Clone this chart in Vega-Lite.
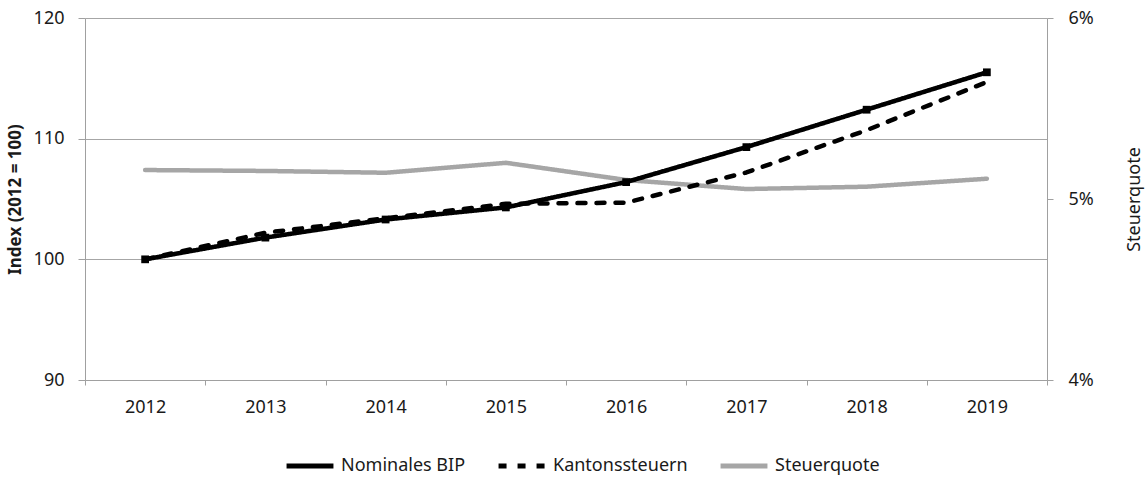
{
  "$schema": "https://vega.github.io/schema/vega-lite/v6.json",
  "width": 962,
  "height": 362,
  "autosize": "none",
  "padding": {"left": 85, "top": 18, "right": 98, "bottom": 100},
  "background": "white",
  "config": {
    "view": {"stroke": null},
    "font": "Noto Sans",
    "axis": {
      "domainColor": "#a0a0a0",
      "tickColor": "#a0a0a0",
      "gridColor": "#a6a6a6",
      "labelColor": "#1a1a1a",
      "titleColor": "#1a1a1a",
      "labelFontSize": 18,
      "labelFont": "Noto Sans"
    }
  },
  "datasets": {
    "index": [
      {"year": "2012", "series": "Nominales BIP", "value": 100},
      {"year": "2013", "series": "Nominales BIP", "value": 101.8},
      {"year": "2014", "series": "Nominales BIP", "value": 103.3},
      {"year": "2015", "series": "Nominales BIP", "value": 104.3},
      {"year": "2016", "series": "Nominales BIP", "value": 106.4},
      {"year": "2017", "series": "Nominales BIP", "value": 109.3},
      {"year": "2018", "series": "Nominales BIP", "value": 112.4},
      {"year": "2019", "series": "Nominales BIP", "value": 115.5},
      {"year": "2012", "series": "Kantonssteuern", "value": 100},
      {"year": "2013", "series": "Kantonssteuern", "value": 102.2},
      {"year": "2014", "series": "Kantonssteuern", "value": 103.4},
      {"year": "2015", "series": "Kantonssteuern", "value": 104.6},
      {"year": "2016", "series": "Kantonssteuern", "value": 104.7},
      {"year": "2017", "series": "Kantonssteuern", "value": 107.2},
      {"year": "2018", "series": "Kantonssteuern", "value": 110.7},
      {"year": "2019", "series": "Kantonssteuern", "value": 114.7}
    ],
    "quote": [
      {"year": "2012", "series": "Steuerquote", "value": 0.0516},
      {"year": "2013", "series": "Steuerquote", "value": 0.05155},
      {"year": "2014", "series": "Steuerquote", "value": 0.05145},
      {"year": "2015", "series": "Steuerquote", "value": 0.0520},
      {"year": "2016", "series": "Steuerquote", "value": 0.05105},
      {"year": "2017", "series": "Steuerquote", "value": 0.05055},
      {"year": "2018", "series": "Steuerquote", "value": 0.05068},
      {"year": "2019", "series": "Steuerquote", "value": 0.05112}
    ]
  },
  "layer": [
    {
      "data": {"name": "quote"},
      "mark": {"type": "line", "strokeWidth": 4.5, "strokeCap": "round", "strokeJoin": "round"},
      "encoding": {
        "x": {
          "field": "year", "type": "ordinal",
          "scale": {"type": "band", "paddingInner": 0, "paddingOuter": 0},
          "axis": {"title": null, "labelAngle": 0, "tickBand": "extent", "tickSize": 5, "labelPadding": 13, "grid": false}
        },
        "y": {
          "field": "value", "type": "quantitative",
          "scale": {"domain": [0.04, 0.06], "nice": false, "zero": false},
          "axis": {"orient": "right", "values": [0.04, 0.05, 0.06], "format": ".0%", "grid": false, "tickSize": 6, "labelPadding": 15, "title": "Steuerquote", "titleFontSize": 18, "titleFontWeight": "normal", "titleAngle": 270, "titlePadding": 50}
        },
        "color": {
          "field": "series", "type": "nominal",
          "scale": {"domain": ["Nominales BIP", "Kantonssteuern", "Steuerquote"], "range": ["#000000", "#000000", "#a6a6a6"]},
          "legend": {"orient": "none", "legendX": 199, "legendY": 422, "direction": "horizontal", "title": null, "symbolSize": 2200, "symbolStrokeWidth": 5, "labelFontSize": 18, "labelOffset": 5, "columnPadding": 22, "labelColor": "#1a1a1a"}
        },
        "strokeDash": {
          "field": "series", "type": "nominal",
          "scale": {"domain": ["Nominales BIP", "Kantonssteuern", "Steuerquote"], "range": [[1, 0], [8, 11], [1, 0]]},
          "legend": {"orient": "none", "legendX": 199, "legendY": 422, "direction": "horizontal", "title": null, "symbolSize": 2200, "symbolStrokeWidth": 5, "labelFontSize": 18, "labelOffset": 5, "columnPadding": 22, "labelColor": "#1a1a1a"}
        }
      }
    },
    {
      "data": {"name": "index"},
      "encoding": {
        "x": {"field": "year", "type": "ordinal"},
        "y": {
          "field": "value", "type": "quantitative",
          "scale": {"domain": [90, 120], "nice": false, "zero": false},
          "axis": {"orient": "left", "values": [90, 100, 110, 120], "grid": true, "tickSize": 7, "labelPadding": 14, "title": "Index (2012 = 100)", "titleFontSize": 17, "titleFontWeight": "bold", "titlePadding": 9}
        }
      },
      "layer": [
        {
          "mark": {"type": "line", "strokeWidth": 4.5, "strokeCap": "round", "strokeJoin": "round"},
          "encoding": {
            "color": {"field": "series", "type": "nominal"},
            "strokeDash": {"field": "series", "type": "nominal"}
          }
        },
        {
          "transform": [{"filter": "datum.series === 'Nominales BIP'"}],
          "mark": {"type": "point", "shape": "square", "filled": true, "size": 60, "color": "#000000", "opacity": 1},
          "encoding": {}
        }
      ]
    }
  ],
  "resolve": {"scale": {"y": "independent"}}
}
